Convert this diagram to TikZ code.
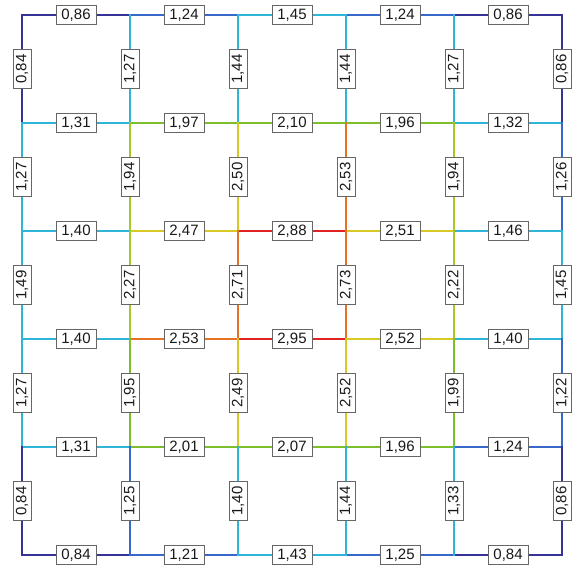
\documentclass[tikz,border=0pt]{standalone}
\usepackage{fontspec}
\setmainfont{Liberation Sans}
\definecolor{navyE}{RGB}{55,50,150}
\definecolor{blueE}{RGB}{55,105,200}
\definecolor{cyanE}{RGB}{45,180,215}
\definecolor{greenE}{RGB}{125,190,45}
\definecolor{ygreenE}{RGB}{165,200,40}
\definecolor{yellowE}{RGB}{215,200,35}
\definecolor{orangeE}{RGB}{230,115,35}
\definecolor{redE}{RGB}{225,35,35}
\tikzset{
  edgeline/.style={line width=2.8pt, line cap=rect},
  hlab/.style={draw=black!60, line width=1pt, fill=white, inner sep=0pt,
    minimum width=40pt, minimum height=19pt, text=black!90,
    font=\fontsize{15}{15}\selectfont},
  vlab/.style={hlab, rotate=90, minimum width=39pt, minimum height=18pt}
}
\newcommand{\hE}[4]{%
  \pgfmathtruncatemacro{\ni}{#1+1}%
  \draw[edgeline, #4] (p-#1-#2) -- node[hlab] (h-#1-#2) {#3} (p-\ni-#2);}
\newcommand{\vE}[4]{%
  \pgfmathtruncatemacro{\nj}{#2+1}%
  \draw[edgeline, #4] (p-#1-#2) -- node[vlab] (v-#1-#2) {#3} (p-#1-\nj);}
\begin{document}
\begin{tikzpicture}[x=1pt,y=-1pt]
\useasboundingbox (0,0) rectangle (577,572);
\fill[white] (0,0) rectangle (577,572);
\foreach \i in {0,...,5}{
  \foreach \j in {0,...,5}{
    \coordinate (p-\i-\j) at ({22+108*\i},{15+108*\j});
  }
}
% horizontal edges
\hE{0}{0}{0,86}{navyE}\hE{1}{0}{1,24}{blueE}\hE{2}{0}{1,45}{cyanE}\hE{3}{0}{1,24}{blueE}\hE{4}{0}{0,86}{navyE}
\hE{0}{1}{1,31}{cyanE}\hE{1}{1}{1,97}{greenE}\hE{2}{1}{2,10}{greenE}\hE{3}{1}{1,96}{greenE}\hE{4}{1}{1,32}{cyanE}
\hE{0}{2}{1,40}{cyanE}\hE{1}{2}{2,47}{yellowE}\hE{2}{2}{2,88}{redE}\hE{3}{2}{2,51}{yellowE}\hE{4}{2}{1,46}{cyanE}
\hE{0}{3}{1,40}{cyanE}\hE{1}{3}{2,53}{orangeE}\hE{2}{3}{2,95}{redE}\hE{3}{3}{2,52}{yellowE}\hE{4}{3}{1,40}{cyanE}
\hE{0}{4}{1,31}{cyanE}\hE{1}{4}{2,01}{greenE}\hE{2}{4}{2,07}{greenE}\hE{3}{4}{1,96}{greenE}\hE{4}{4}{1,24}{blueE}
\hE{0}{5}{0,84}{navyE}\hE{1}{5}{1,21}{blueE}\hE{2}{5}{1,43}{cyanE}\hE{3}{5}{1,25}{blueE}\hE{4}{5}{0,84}{navyE}
% vertical edges
\vE{0}{0}{0,84}{navyE}\vE{0}{1}{1,27}{cyanE}\vE{0}{2}{1,49}{cyanE}\vE{0}{3}{1,27}{cyanE}\vE{0}{4}{0,84}{navyE}
\vE{1}{0}{1,27}{cyanE}\vE{1}{1}{1,94}{ygreenE}\vE{1}{2}{2,27}{ygreenE}\vE{1}{3}{1,95}{greenE}\vE{1}{4}{1,25}{blueE}
\vE{2}{0}{1,44}{cyanE}\vE{2}{1}{2,50}{yellowE}\vE{2}{2}{2,71}{orangeE}\vE{2}{3}{2,49}{yellowE}\vE{2}{4}{1,40}{cyanE}
\vE{3}{0}{1,44}{cyanE}\vE{3}{1}{2,53}{orangeE}\vE{3}{2}{2,73}{orangeE}\vE{3}{3}{2,52}{yellowE}\vE{3}{4}{1,44}{cyanE}
\vE{4}{0}{1,27}{cyanE}\vE{4}{1}{1,94}{ygreenE}\vE{4}{2}{2,22}{ygreenE}\vE{4}{3}{1,99}{greenE}\vE{4}{4}{1,33}{cyanE}
\vE{5}{0}{0,86}{navyE}\vE{5}{1}{1,26}{blueE}\vE{5}{2}{1,45}{cyanE}\vE{5}{3}{1,22}{blueE}\vE{5}{4}{0,86}{navyE}
\end{tikzpicture}
\end{document}
